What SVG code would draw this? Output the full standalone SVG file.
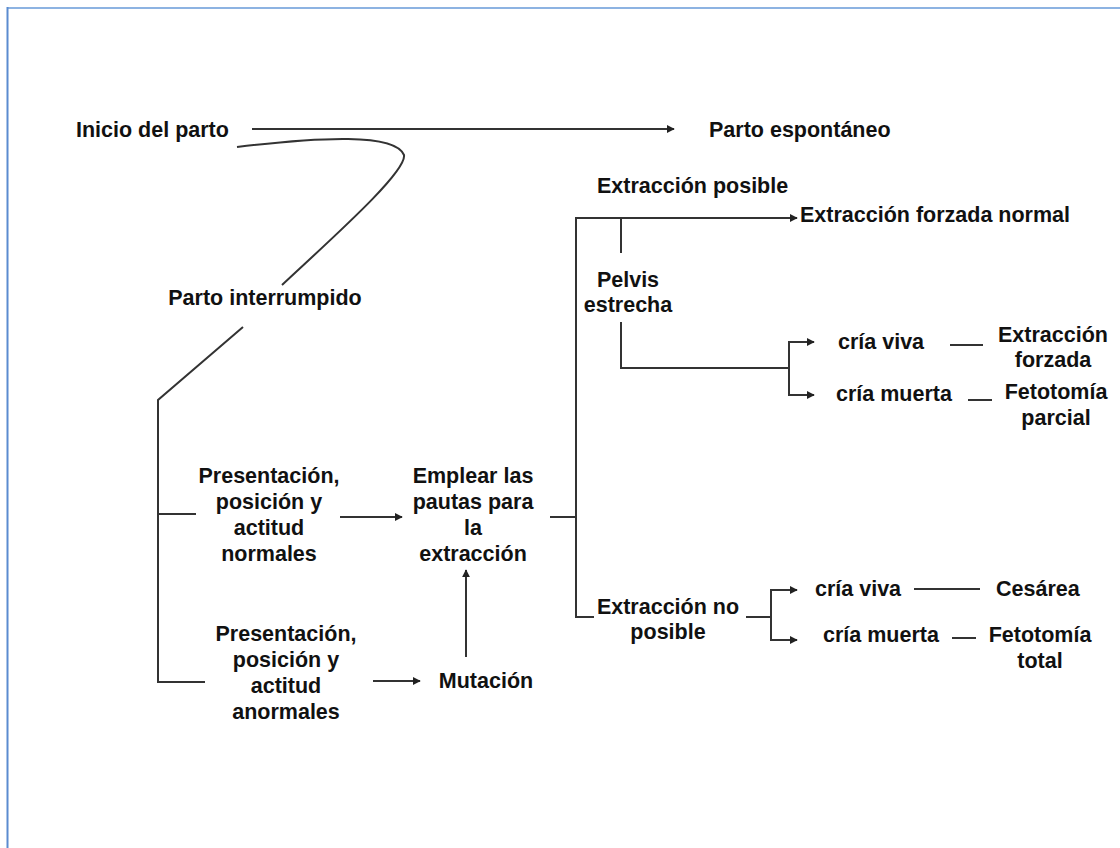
<svg xmlns="http://www.w3.org/2000/svg" width="1120" height="848" viewBox="0 0 1120 848">
<style>
  text { font-family: "Liberation Sans", Arial, sans-serif; font-weight: bold; font-size: 21.5px; fill: #111; }
  .c { text-anchor: middle; }
  .ln { stroke: #333; stroke-width: 2; fill: none; }
  .ar { stroke: #333; stroke-width: 2; fill: none; marker-end: url(#ah); }
</style>
<defs>
  <marker id="ah" viewBox="0 0 10 10" refX="9" refY="5" markerWidth="4" markerHeight="4" orient="auto" markerUnits="strokeWidth">
    <path d="M0,0 L10,5 L0,10 z" fill="#222"/>
  </marker>
</defs>
<rect width="1120" height="848" fill="#fff"/>
<g id="frame">
  <line x1="7" y1="8" x2="1120" y2="8" stroke="#8db3e2" stroke-width="2"/>
  <line x1="7.5" y1="7" x2="7.5" y2="848" stroke="#5b8bd0" stroke-width="2"/>
</g>
<g id="connectors">
  <line class="ar" x1="252" y1="129" x2="674" y2="129"/>
  <path class="ln" d="M237,147 C320,137 395,133 404,155 C407,172 330,240 282,285"/>
  <polyline class="ln" points="243,327 158,400 158,682 205,682"/>
  <line class="ln" x1="158" y1="514" x2="196" y2="514"/>
  <line class="ar" x1="340" y1="517" x2="402" y2="517"/>
  <line class="ar" x1="373" y1="681" x2="420" y2="681"/>
  <line class="ar" x1="466" y1="657" x2="466" y2="570"/>
  <line class="ln" x1="550" y1="517" x2="576" y2="517"/>
  <polyline class="ln" points="594,617 576,617 576,218 797,218" />
  <line class="ar" x1="700" y1="218" x2="797" y2="218"/>
  <line class="ln" x1="621" y1="218" x2="621" y2="253"/>
  <polyline class="ln" points="621,322 621,368 789,368"/>
  <polyline class="ar" points="789,368 789,342 814,342"/>
  <polyline class="ar" points="789,368 789,395 814,395"/>
  <line class="ln" x1="950" y1="345" x2="983" y2="345"/>
  <line class="ln" x1="968" y1="400" x2="992" y2="400"/>
  <line class="ln" x1="746" y1="617" x2="771" y2="617"/>
  <polyline class="ar" points="771,617 771,590 797,590"/>
  <polyline class="ar" points="771,617 771,640 797,640"/>
  <line class="ln" x1="914" y1="589" x2="980" y2="589"/>
  <line class="ln" x1="952" y1="638" x2="976" y2="638"/>
</g>
<g id="inicio"><text x="76" y="137">Inicio del parto</text></g>
<g id="espontaneo"><text x="709" y="137">Parto espontáneo</text></g>
<g id="interrumpido"><text x="265" y="305" class="c">Parto interrumpido</text></g>
<g id="normales">
  <text class="c" x="269" y="483">Presentación,</text>
  <text class="c" x="269" y="509">posición y</text>
  <text class="c" x="269" y="535">actitud</text>
  <text class="c" x="269" y="561">normales</text>
</g>
<g id="anormales">
  <text class="c" x="286" y="641">Presentación,</text>
  <text class="c" x="286" y="667">posición y</text>
  <text class="c" x="286" y="693">actitud</text>
  <text class="c" x="286" y="719">anormales</text>
</g>
<g id="emplear">
  <text class="c" x="473" y="483">Emplear las</text>
  <text class="c" x="473" y="509">pautas para</text>
  <text class="c" x="473" y="535">la</text>
  <text class="c" x="473" y="561">extracción</text>
</g>
<g id="mutacion"><text class="c" x="486" y="688">Mutación</text></g>
<g id="posible"><text x="597" y="193">Extracción posible</text></g>
<g id="forzada-normal"><text x="800" y="222">Extracción forzada normal</text></g>
<g id="pelvis">
  <text class="c" x="628" y="287">Pelvis</text>
  <text class="c" x="628" y="312">estrecha</text>
</g>
<g id="cria-viva-1"><text x="838" y="349">cría viva</text></g>
<g id="cria-muerta-1"><text x="836" y="401">cría muerta</text></g>
<g id="extraccion-forzada">
  <text class="c" x="1053" y="342">Extracción</text>
  <text class="c" x="1053" y="367">forzada</text>
</g>
<g id="fetotomia-parcial">
  <text class="c" x="1056" y="399">Fetotomía</text>
  <text class="c" x="1056" y="425">parcial</text>
</g>
<g id="no-posible">
  <text class="c" x="668" y="614">Extracción no</text>
  <text class="c" x="668" y="639">posible</text>
</g>
<g id="cria-viva-2"><text x="815" y="596">cría viva</text></g>
<g id="cria-muerta-2"><text x="823" y="642">cría muerta</text></g>
<g id="cesarea"><text x="996" y="596">Cesárea</text></g>
<g id="fetotomia-total">
  <text class="c" x="1040" y="642">Fetotomía</text>
  <text class="c" x="1040" y="668">total</text>
</g>
</svg>
